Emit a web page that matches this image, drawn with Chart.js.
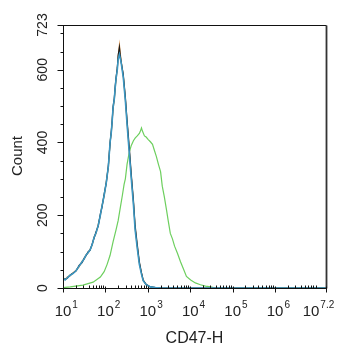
<!DOCTYPE html>
<html>
<head>
<meta charset="utf-8">
<script src="https://cdn.jsdelivr.net/npm/chart.js@4/dist/chart.umd.min.js"></script>
<style>
html,body{margin:0;padding:0;background:#fff;}
#wrap{width:342px;height:350px;position:relative;}
</style>
</head>
<body>
<div id="wrap"><canvas id="c" width="342" height="350"></canvas></div>
<script>
// Tick positions (log10 decades) and labels
const xTickDecades = [1, 2, 3, 4, 5, 6, 7.2];
const xTickExponents = ['1', '2', '3', '4', '5', '6', '7.2'];
const yTickValues = [0, 200, 400, 600, 723];
const yTickLabels = ['0', '200', '400', '600', '723'];
const xTitle = 'CD47-H';
const yTitle = 'Count';

// Control histograms (log10 decade positions and counts)
const ctrlDecades = [1.00,1.05,1.10,1.17,1.24,1.31,1.38,1.45,1.50,1.54,
  1.59,1.64,1.69,1.73,1.78,1.83,1.88,1.92,1.97,2.02,
  2.07,2.11,2.14,2.16,2.18,2.21,2.23,2.25,2.28,2.30,
  2.33,2.35,2.37,2.42,2.47,2.51,2.56,2.61,2.66,2.70,
  2.75,2.80,2.85,2.89,2.96,3.06,3.18,3.30,7.2];
const blueCounts = [27,22,28,35,40,48,60,72,80,90,
  97,105,120,138,152,172,200,225,255,290,
  335,400,430,460,495,520,550,575,600,628,
  642,632,620,580,515,450,375,300,230,160,
  110,65,38,20,9,3,1,0,0];
const blackCounts = [25,24,27,36,41,47,62,70,82,88,
  99,104,122,136,155,170,203,222,258,288,
  338,398,433,462,498,522,553,578,605,640,
  662,640,622,588,525,462,390,312,242,172,
  120,72,42,22,10,3,1,0,0];
const orangeCounts = [29,23,30,34,42,49,58,74,79,91,
  96,107,118,140,150,175,198,228,252,293,
  332,402,428,458,492,518,548,572,602,635,
  668,645,625,583,518,455,380,305,235,165,
  113,68,40,21,9,3,1,0,0];

// CD47 stained histogram
const greenDecades = [1.00,1.17,1.47,1.71,1.88,1.97,2.04,2.11,2.18,2.25,
  2.30,2.35,2.40,2.44,2.47,2.51,2.56,2.61,2.66,2.70,
  2.75,2.80,2.82,2.85,2.87,2.92,2.96,3.01,3.06,3.11,
  3.15,3.20,3.25,3.30,3.34,3.39,3.44,3.48,3.53,3.58,
  3.63,3.70,3.77,3.84,3.91,4.01,4.12,4.24,4.36,4.48,
  4.60,7.2];
const greenCounts = [1,3,8,16,30,45,65,90,127,160,
  185,220,255,285,300,340,372,392,405,412,
  418,425,430,440,432,418,415,408,402,395,
  380,362,340,320,280,250,215,185,150,135,
  115,95,72,52,32,22,14,9,5,3,
  0,0];

function pts(dec, cnt){ return dec.map((d,i)=>({x: Math.pow(10,d), y: cnt[i]})); }

const FONT = '"Liberation Sans", Arial, sans-serif';

const axisPlugin = {
  id: 'flowAxes',
  afterDraw(chart){
    const {ctx, chartArea: a, scales: {x, y}} = chart;
    ctx.save();
    const L = Math.round(a.left) + 0.5, R = Math.round(a.right) + 0.5;
    const T = Math.round(a.top) + 0.5, B = Math.round(a.bottom) + 0.5;
    ctx.strokeStyle = '#111';
    ctx.lineWidth = 1;
    ctx.beginPath();
    ctx.moveTo(L - 5, T); ctx.lineTo(R, T);
    ctx.moveTo(L, T); ctx.lineTo(L, B);
    ctx.moveTo(L, B); ctx.lineTo(R, B);
    ctx.stroke();
    ctx.strokeStyle = '#333';
    ctx.lineWidth = 1.8;
    ctx.beginPath(); ctx.moveTo(R, T); ctx.lineTo(R, B); ctx.stroke();

    // y ticks
    ctx.strokeStyle = '#111'; ctx.lineWidth = 1;
    ctx.beginPath();
    for (let v = 50; v < 723; v += 50) {
      if (v % 200 === 0) continue;
      const py = Math.round(y.getPixelForValue(v)) + 0.5;
      ctx.moveTo(L - 3, py); ctx.lineTo(L, py);
    }
    yTickValues.forEach(v => {
      const py = Math.round(y.getPixelForValue(v)) + 0.5;
      ctx.moveTo(L - 6, py); ctx.lineTo(L, py);
    });
    ctx.stroke();

    // x ticks
    ctx.beginPath();
    for (let k = 1; k < 8; k++) {
      for (let m = 2; m <= 9; m++) {
        const v = m * Math.pow(10, k);
        if (Math.log10(v) > 7.2) continue;
        const px = Math.round(x.getPixelForValue(v)) + 0.5;
        ctx.moveTo(px, B - 3); ctx.lineTo(px, B);
      }
    }
    xTickDecades.forEach(d => {
      const px = Math.round(x.getPixelForValue(Math.pow(10, d))) + 0.5;
      ctx.moveTo(px, B - 2); ctx.lineTo(px, B + 4);
    });
    ctx.stroke();

    // y labels (rotated)
    ctx.fillStyle = '#222';
    ctx.font = '14px ' + FONT;
    ctx.textAlign = 'center';
    ctx.textBaseline = 'middle';
    yTickValues.forEach((v, i) => {
      const py = y.getPixelForValue(v);
      ctx.save();
      ctx.translate(43, py);
      ctx.rotate(-Math.PI / 2);
      ctx.fillText(yTickLabels[i], 0, 0);
      ctx.restore();
    });

    // x labels: 10 with superscript exponent
    ctx.textBaseline = 'alphabetic';
    xTickDecades.forEach((d, i) => {
      const px = x.getPixelForValue(Math.pow(10, d));
      ctx.font = '15px ' + FONT;
      const base = '10';
      const bw = ctx.measureText(base).width;
      let cx = px;
      if (d > 7) cx = px - 15;
      ctx.textAlign = 'left';
      ctx.fillText(base, cx - bw / 2, 316);
      ctx.font = '10px ' + FONT;
      ctx.fillText(xTickExponents[i], cx + bw / 2 + 1, 308);
    });

    // titles
    ctx.font = '16px ' + FONT;
    ctx.textAlign = 'center';
    ctx.textBaseline = 'alphabetic';
    ctx.fillText(xTitle, (a.left + a.right) / 2, 343);
    ctx.save();
    ctx.font = '15px ' + FONT;
    ctx.translate(22, 156);
    ctx.rotate(-Math.PI / 2);
    ctx.fillText(yTitle, 0, 0);
    ctx.restore();
    ctx.restore();
  }
};

new Chart(document.getElementById('c'), {
  type: 'line',
  data: {
    datasets: [
      {label: 'ctrl-blue', data: pts(ctrlDecades, blueCounts), borderColor: '#3a97c4', borderWidth: 1.6},
      {label: 'ctrl-black', data: pts(ctrlDecades, blackCounts), borderColor: '#1a1a1a', borderWidth: 1.2},
      {label: 'ctrl-orange', data: pts(ctrlDecades, orangeCounts), borderColor: '#e0954a', borderWidth: 1.2},
      {label: 'CD47', data: pts(greenDecades, greenCounts), borderColor: '#6dcf5e', borderWidth: 1.2}
    ]
  },
  options: {
    responsive: false,
    animation: false,
    events: [],
    layout: {padding: {left: 0, top: 25, right: 16, bottom: 0}},
    elements: {point: {radius: 0}, line: {tension: 0, fill: false}},
    plugins: {legend: {display: false}, tooltip: {enabled: false}},
    scales: {
      x: {
        type: 'logarithmic', min: 10, max: Math.pow(10, 7.2),
        ticks: {display: false}, grid: {display: false}, border: {display: false},
        afterFit: s => { s.height = 62; }
      },
      y: {
        type: 'linear', min: 0, max: 723,
        ticks: {display: false}, grid: {display: false}, border: {display: false},
        afterFit: s => { s.width = 63; }
      }
    }
  },
  plugins: [axisPlugin]
});
</script>
</body>
</html>
